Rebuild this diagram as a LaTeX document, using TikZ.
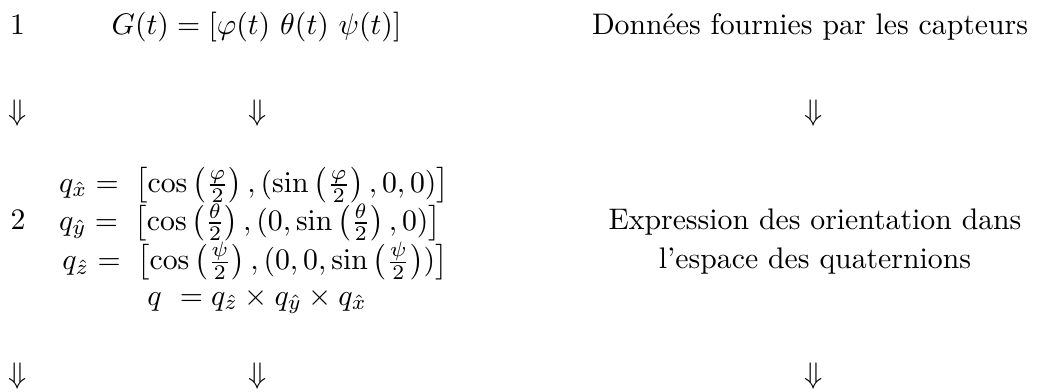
\documentclass[tikz,border=0pt]{standalone}
\usepackage{amsmath}
\tikzset{
  px/.style={x=0.3361pt,y=-0.3361pt},
  lbl/.style={inner sep=0pt,outer sep=0pt},
  arr/.style={inner sep=0pt,outer sep=0pt},
}
\newcommand{\hf}[1]{\mathinner{\bigl(\frac{#1}{2}\bigr)}}
\begin{document}
\begin{tikzpicture}[px]
\useasboundingbox (0,0) rectangle (1052,392);
% row 1
\node[lbl,anchor=base] (n1) at (17.5,35) {1};
\node[lbl,anchor=base] (g) at (256.5,35) {$G(t) = [\varphi(t)\ \theta(t)\ \psi(t)]$};
\node[lbl,anchor=base] (d1) at (810,35) {Données fournies par les capteurs};
% arrows row 1
\node[arr] (a11) at (17.5,113.5) {$\Downarrow$};
\node[arr] (a12) at (257.5,113.5) {$\Downarrow$};
\node[arr] (a13) at (814,113.5) {$\Downarrow$};
% row 2
\node[lbl,anchor=base] (n2) at (18,230) {2};
\node[lbl] (e1) at (254,185) {$q_{\hat{x}} = \;\bigl[\cos\hf{\varphi}, (\sin\hf{\varphi}, 0, 0)\bigr]$};
\node[lbl] (e2) at (250,222.5) {$q_{\hat{y}} = \;\bigl[\cos\hf{\theta}, (0, \sin\hf{\theta}, 0)\bigr]$};
\node[lbl] (e3) at (255,261) {$q_{\hat{z}} = \;\bigl[\cos\hf{\psi}, (0, 0, \sin\hf{\psi})\bigr]$};
\node[lbl,anchor=base] (e4) at (257,305) {$q\ = q_{\hat{z}} \times q_{\hat{y}} \times q_{\hat{x}}$};
\node[lbl,align=center] (d2) at (815,241.6) {Expression des orientation dans\\[0.8pt] l'espace des quaternions};
% arrows row 2
\node[arr] (a21) at (17.5,376.5) {$\Downarrow$};
\node[arr] (a22) at (257.5,376.5) {$\Downarrow$};
\node[arr] (a23) at (814,376.5) {$\Downarrow$};
\end{tikzpicture}
\end{document}
